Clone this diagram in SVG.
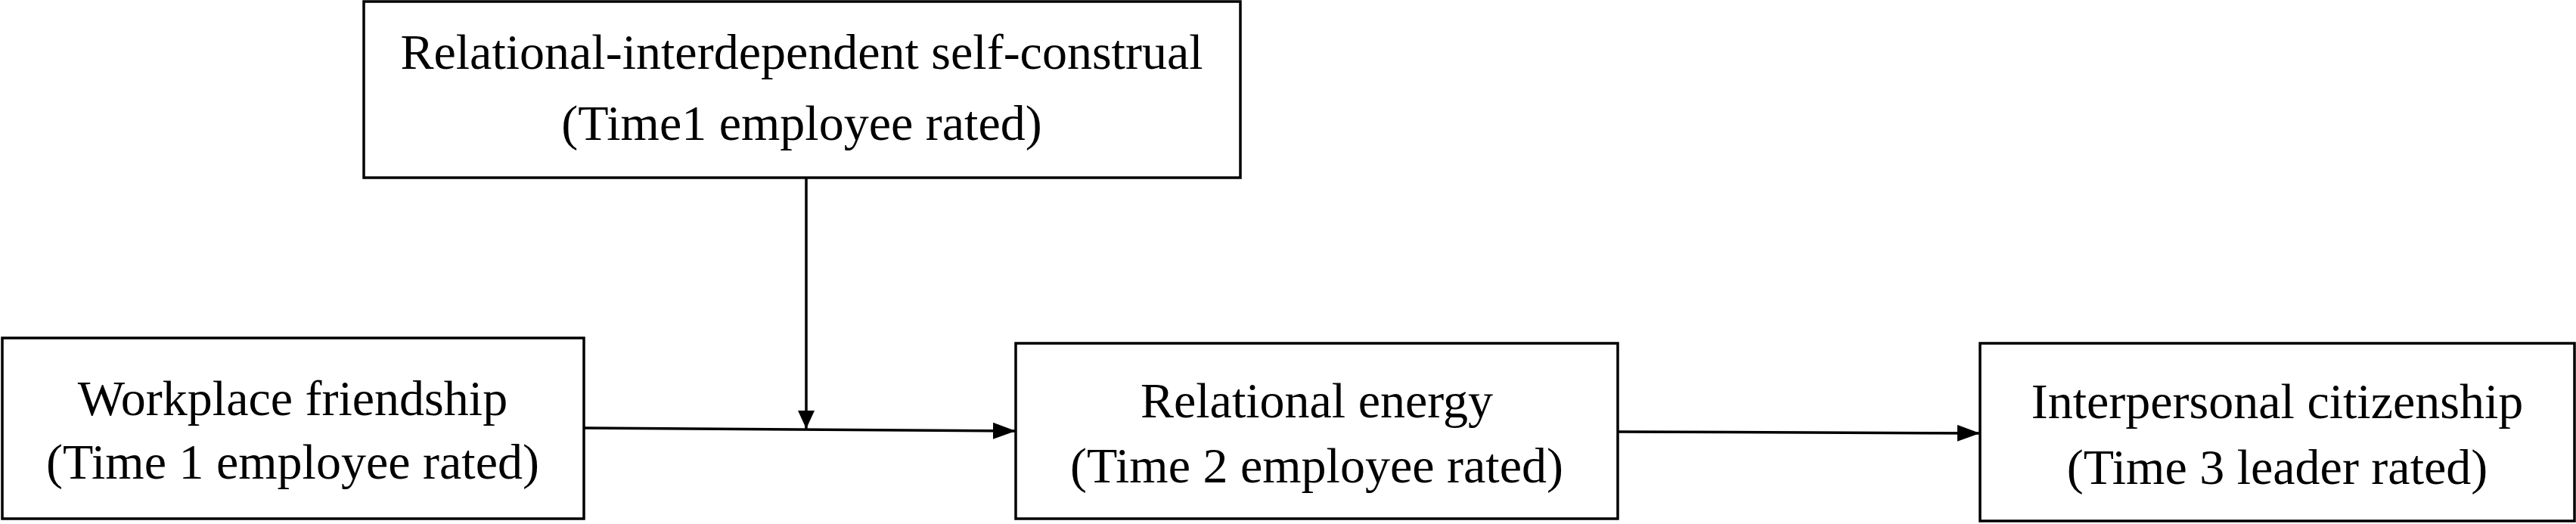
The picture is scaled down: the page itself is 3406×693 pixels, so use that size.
<svg xmlns="http://www.w3.org/2000/svg" width="3406" height="693" viewBox="0 0 3406 693">
<style>
  .box { fill: #ffffff; stroke: #000000; stroke-width: 3.5; }
  .lbl { font-family: "Liberation Serif", "Times New Roman", serif; font-size: 66px; fill: #000000; text-anchor: middle; }
  .edge { stroke: #000000; stroke-width: 3.5; fill: none; }
</style>
<defs>
  <marker id="ah" viewBox="0 0 30 22" refX="30" refY="11" markerWidth="30" markerHeight="22" markerUnits="userSpaceOnUse" orient="auto">
    <path d="M0,0 L30,11 L0,22 Z" fill="#000000"/>
  </marker>
  <marker id="ahv" viewBox="0 0 24 22" refX="24" refY="11" markerWidth="24" markerHeight="22" markerUnits="userSpaceOnUse" orient="auto">
    <path d="M0,0 L24,11 L0,22 Z" fill="#000000"/>
  </marker>
</defs>
<rect width="3406" height="693" fill="#ffffff"/>
<g id="connectors">
  <line class="edge" x1="772" y1="566" x2="1343" y2="570" marker-end="url(#ah)"/>
  <line class="edge" x1="1066" y1="235" x2="1066" y2="567" marker-end="url(#ahv)"/>
  <line class="edge" x1="2139" y1="571" x2="2618" y2="573" marker-end="url(#ah)"/>
</g>
<g id="node-moderator">
  <rect class="box" x="481" y="2" width="1159" height="233"/>
  <text class="lbl" x="1060" y="91">Relational-interdependent self-construal</text>
  <text class="lbl" x="1060" y="185">(Time1 employee rated)</text>
</g>
<g id="node-friendship">
  <rect class="box" x="3" y="447" width="769" height="239"/>
  <text class="lbl" x="387" y="549">Workplace friendship</text>
  <text class="lbl" x="387" y="633">(Time 1 employee rated)</text>
</g>
<g id="node-energy">
  <rect class="box" x="1343" y="454" width="796" height="232"/>
  <text class="lbl" x="1741" y="552">Relational energy</text>
  <text class="lbl" x="1741" y="638">(Time 2 employee rated)</text>
</g>
<g id="node-citizenship">
  <rect class="box" x="2618" y="454" width="786" height="235"/>
  <text class="lbl" x="3011" y="553">Interpersonal citizenship</text>
  <text class="lbl" x="3011" y="640">(Time 3 leader rated)</text>
</g>
</svg>
